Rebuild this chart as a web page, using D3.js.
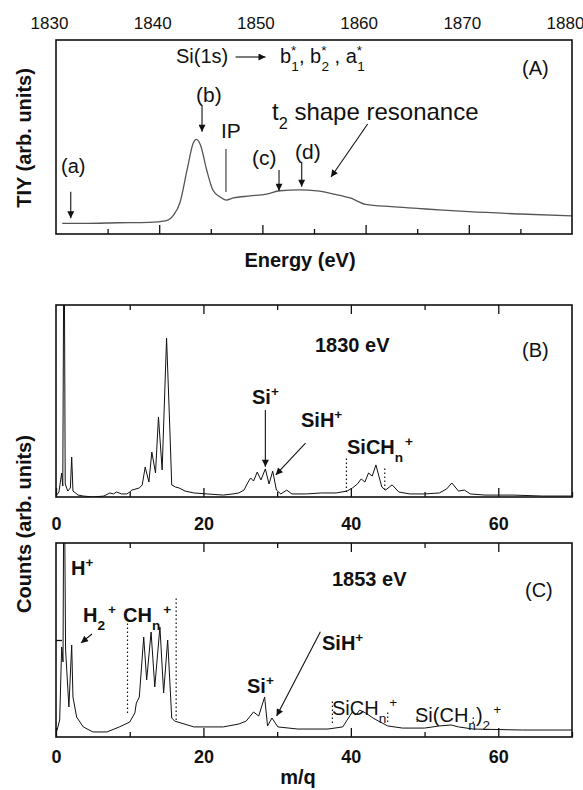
<!DOCTYPE html>
<html>
<head>
<meta charset="utf-8">
<script src="https://cdn.jsdelivr.net/npm/d3@7"></script>
<style>
  body { margin: 0; background: #fff; }
  svg text { font-family: "Liberation Sans", Arial, Helvetica, sans-serif; fill: #111; }
</style>
</head>
<body>
<svg id="fig" width="583" height="790"></svg>
<script>
// ---- data ----
// (A) total ion yield vs photon energy
const tiyEnergy = [1830.6, 1833, 1836, 1839, 1840.7, 1841.4, 1842.0, 1842.7, 1843.3, 1843.6, 1844.0, 1844.6,
  1845.2, 1845.9, 1846.5, 1847.2, 1848.8, 1850.4, 1851.7, 1853.6, 1855.3, 1856.9, 1858.5, 1860.0, 1862.5,
  1865.0, 1867.5, 1870.0, 1875.0, 1880.0];
const tiyValue = [0.055, 0.055, 0.058, 0.060, 0.069, 0.098, 0.160, 0.330, 0.469, 0.488, 0.459, 0.330,
  0.227, 0.191, 0.175, 0.186, 0.196, 0.206, 0.223, 0.227, 0.222, 0.206, 0.186, 0.153, 0.141,
  0.132, 0.123, 0.115, 0.103, 0.093];

// (B) mass spectrum at 1830 eV
const mqB = [0.0, 0.4, 0.77, 0.92, 1.09, 1.25, 1.6, 1.95, 2.13, 2.3, 3.0, 3.7, 5.0, 6.5, 7.3, 7.8, 8.2, 8.9, 9.6,
  10.0, 10.3, 11.3, 11.7, 12.1, 12.6, 13.0, 13.5, 13.9, 14.4, 15.0, 15.4, 15.7, 16.2, 16.7, 17.5, 18.7, 20.5,
  22.7, 24.0, 24.8, 25.5, 26.0, 26.4, 26.8, 27.3, 27.8, 28.4, 28.9, 29.4, 29.9, 30.5, 31.3, 32.0, 34.0, 36.0,
  38.0, 39.5, 40.2, 40.9, 41.4, 41.9, 42.4, 42.9, 43.4, 43.8, 44.2, 44.7, 45.6, 46.5, 48.0, 50.0, 52.0, 53.0,
  53.7, 54.6, 55.4, 56.2, 58.2, 62.0, 66.0, 70.0];
const countsB = [0.005, 0.026, 0.125, 0.057, 1.6, 0.068, 0.031, 0.047, 0.208, 0.031, 0.010, 0.005, 0.0, 0.005,
  0.021, 0.016, 0.026, 0.016, 0.016, 0.026, 0.036, 0.047, 0.063, 0.156, 0.078, 0.234, 0.125, 0.417, 0.141,
  0.828, 0.401, 0.063, 0.052, 0.047, 0.031, 0.021, 0.016, 0.010, 0.016, 0.021, 0.036, 0.073, 0.099, 0.083,
  0.130, 0.089, 0.146, 0.068, 0.135, 0.036, 0.016, 0.036, 0.016, 0.016, 0.021, 0.021, 0.031, 0.047, 0.068,
  0.094, 0.078, 0.125, 0.109, 0.167, 0.109, 0.052, 0.036, 0.063, 0.026, 0.016, 0.016, 0.021, 0.042, 0.073,
  0.031, 0.036, 0.016, 0.010, 0.010, 0.005, 0.005];

// (C) mass spectrum at 1853 eV
const mqC = [0.0, 0.15, 0.5, 0.77, 0.95, 1.09, 1.3, 1.75, 2.13, 2.3, 2.8, 3.7, 5.0, 6.9, 8.6, 10.0, 10.7, 10.9,
  11.3, 11.9, 12.3, 12.9, 13.4, 14.1, 14.6, 15.15, 15.7, 16.1, 18.7, 22.7, 24.8, 25.8, 26.8, 27.5, 28.3, 28.7,
  29.3, 30.1, 32.8, 36.9, 38.9, 40.2, 40.7, 41.2, 42.0, 43.0, 44.0, 45.0, 47.0, 50.0, 52.0, 53.6, 54.6, 56.6,
  63.3, 70.0];
const countsC = [0.026, 0.036, 0.088, 0.464, 0.387, 1.6, 0.448, 0.155, 0.474, 0.206, 0.103, 0.052, 0.026, 0.026,
  0.052, 0.077, 0.124, 0.175, 0.206, 0.515, 0.294, 0.541, 0.258, 0.567, 0.227, 0.500, 0.098, 0.082, 0.052,
  0.052, 0.067, 0.082, 0.129, 0.108, 0.206, 0.057, 0.098, 0.052, 0.041, 0.041, 0.052, 0.129, 0.113, 0.139,
  0.124, 0.098, 0.077, 0.057, 0.046, 0.046, 0.057, 0.062, 0.052, 0.041, 0.036, 0.036];

// dotted range markers: [m/q, counts low, counts high]
const markersB = [[39.4, 0.026, 0.203], [44.6, 0.036, 0.156]];
const markersC = [[9.7, 0.124, 0.593], [16.3, 0.088, 0.716], [37.5, 0.072, 0.191], [45.0, 0.077, 0.129],
  [49.0, 0.077, 0.113], [56.6, 0.072, 0.103]];

const energyLabels = [1830, 1840, 1850, 1860, 1870, 1880];
const energyMajor = [1840, 1850, 1860, 1870];
const energyMinor = [1835, 1845, 1855, 1865, 1875];
const mqLabels = [0, 20, 40, 60];
const mqMinor = [10, 30, 50, 70];

// ---- layout ----
const svg = d3.select('#fig');
const L = 56, R = 572;
const pA = { top: 40, bottom: 234 };
const pB = { top: 305, bottom: 497 };
const pC = { top: 543, bottom: 737 };

const xE = d3.scaleLinear().domain([1830, 1880]).range([L, R]);
const xM = d3.scaleLinear().domain([0, 70]).range([L, R]);
const yA = d3.scaleLinear().domain([0, 1]).range([pA.bottom, pA.top]);
const yB = d3.scaleLinear().domain([0, 1]).range([pB.bottom, pB.top]);
const yC = d3.scaleLinear().domain([0, 1]).range([pC.bottom, pC.top]);

const defs = svg.append('defs');
defs.append('marker')
  .attr('id', 'ah')
  .attr('viewBox', '0 0 10 10')
  .attr('refX', 10).attr('refY', 5)
  .attr('markerWidth', 8).attr('markerHeight', 7)
  .attr('markerUnits', 'userSpaceOnUse')
  .attr('orient', 'auto')
  .append('path').attr('d', 'M0,0L10,5L0,10Z').attr('fill', '#111');

['A', 'B', 'C'].forEach((k, i) => {
  const p = [pA, pB, pC][i];
  defs.append('clipPath').attr('id', 'clip' + k)
    .append('rect').attr('x', L).attr('y', p.top).attr('width', R - L).attr('height', p.bottom - p.top);
});

// text with sub/superscripts: parts are strings or {sub}/{sup} objects
function label(x, y, parts, size, bold) {
  const t = svg.append('text').attr('x', x).attr('y', y)
    .attr('font-size', size).attr('font-weight', bold ? 'bold' : 'normal');
  let shift = 0;
  parts.forEach(p => {
    let s, txt, fs = size;
    if (typeof p === 'string') { s = 0; txt = p; }
    else if (p.sub !== undefined) { s = size * 0.38; txt = p.sub; fs = size * 0.68; }
    else { s = -size * 0.42; txt = p.sup; fs = size * 0.68; }
    const ts = t.append('tspan').attr('dy', s - shift).attr('font-size', fs).text(txt);
    if (p.dx) ts.attr('dx', p.dx);
    shift = s;
  });
  return t;
}

function arrow(x1, y1, x2, y2) {
  svg.append('line')
    .attr('x1', x1).attr('y1', y1).attr('x2', x2).attr('y2', y2)
    .attr('stroke', '#111').attr('stroke-width', 1.1)
    .attr('marker-end', 'url(#ah)');
}

function frame(p) {
  svg.append('rect')
    .attr('x', L).attr('y', p.top).attr('width', R - L).attr('height', p.bottom - p.top)
    .attr('fill', 'none').attr('stroke', '#111').attr('stroke-width', 1.6);
}

function cleanAxis(g) {
  g.select('.domain').remove();
  g.selectAll('line').attr('stroke', '#111').attr('stroke-width', 1.3);
}

// ---- panel A ----
const lineA = d3.line().x((d, i) => xE(tiyEnergy[i])).y(d => yA(d)).curve(d3.curveMonotoneX);
svg.append('path').datum(tiyValue)
  .attr('clip-path', 'url(#clipA)')
  .attr('d', lineA).attr('fill', 'none').attr('stroke', '#555').attr('stroke-width', 1.3);

svg.append('g').attr('transform', `translate(0,${pA.bottom})`)
  .call(d3.axisBottom(xE).tickValues(energyMajor).tickSize(-9).tickFormat(''))
  .call(cleanAxis);
svg.append('g').attr('transform', `translate(0,${pA.bottom})`)
  .call(d3.axisBottom(xE).tickValues(energyMinor).tickSize(-5).tickFormat(''))
  .call(cleanAxis);
const topAx = svg.append('g').attr('transform', `translate(0,${pA.top})`)
  .call(d3.axisTop(xE).tickValues(energyLabels).tickSize(0).tickFormat(d3.format('d')));
topAx.select('.domain').remove();
topAx.selectAll('text').attr('y', -11).attr('dy', 0).attr('dx', -7)
  .attr('font-size', 17).attr('font-family', null).attr('fill', '#111');
frame(pA);

// panel A annotations
label(176, 63, ['Si(1s)'], 20);
arrow(xE(1847.4), 57, xE(1850.3), 57);
label(xE(1851.7), 63, ['b', { sup: '*' }, { sub: '1', dx: -5 }, ', b', { sup: '*' }, { sub: '2', dx: -5 },
  ' , a', { sup: '*' }, { sub: '1', dx: -5 }], 20);
label(522, 75, ['(A)'], 20);
label(196, 102, ['(b)'], 21);
arrow(xE(1844.15), yA(0.66), xE(1844.15), yA(0.527));
label(221, 138, ['IP'], 21);
svg.append('line')
  .attr('x1', xE(1846.47)).attr('x2', xE(1846.47)).attr('y1', yA(0.438)).attr('y2', yA(0.216))
  .attr('stroke', '#333').attr('stroke-width', 1.1);
label(272, 120, ['t', { sub: '2' }, ' shape resonance'], 24);
arrow(xE(1860.2), yA(0.567), xE(1856.65), yA(0.294));
label(252, 165, ['(c)'], 21);
arrow(xE(1851.61), yA(0.33), xE(1851.61), yA(0.223));
label(295, 159, ['(d)'], 21);
arrow(xE(1853.81), yA(0.373), xE(1853.81), yA(0.244));
label(61, 173, ['(a)'], 20);
arrow(xE(1831.43), yA(0.218), xE(1831.43), yA(0.081));

svg.append('text').attr('x', 300).attr('y', 267).attr('text-anchor', 'middle')
  .attr('font-size', 20).attr('font-weight', 'bold').text('Energy (eV)');
svg.append('text').attr('transform', 'translate(31,138) rotate(-90)').attr('text-anchor', 'middle')
  .attr('font-size', 20).attr('font-weight', 'bold').text('TIY (arb. units)');

// ---- panels B and C ----
function massPanel(p, y, mq, counts, markers, clipId, labY) {
  const line = d3.line().x((d, i) => xM(mq[i])).y(d => y(d));
  svg.append('path').datum(counts)
    .attr('clip-path', `url(#${clipId})`)
    .attr('d', line).attr('fill', 'none').attr('stroke', '#111').attr('stroke-width', 1);

  svg.selectAll(null).data(markers).enter().append('line')
    .attr('x1', d => xM(d[0])).attr('x2', d => xM(d[0]))
    .attr('y1', d => y(d[1])).attr('y2', d => y(d[2]))
    .attr('stroke', '#111').attr('stroke-width', 1.2).attr('stroke-dasharray', '1.5,2.5');

  const bot = svg.append('g').attr('transform', `translate(0,${p.bottom})`)
    .call(d3.axisBottom(xM).tickValues(mqLabels).tickSize(-9).tickFormat(d3.format('d')))
    .call(cleanAxis);
  bot.selectAll('text').attr('y', labY - p.bottom).attr('dy', 0)
    .attr('font-size', 18).attr('font-weight', 'bold').attr('font-family', null).attr('fill', '#111');
  svg.append('g').attr('transform', `translate(0,${p.bottom})`)
    .call(d3.axisBottom(xM).tickValues(mqMinor).tickSize(-5).tickFormat(''))
    .call(cleanAxis);
  svg.append('g').attr('transform', `translate(0,${p.top})`)
    .call(d3.axisTop(xM).tickValues(mqLabels.slice(1)).tickSize(-9).tickFormat(''))
    .call(cleanAxis);
  svg.append('g').attr('transform', `translate(0,${p.top})`)
    .call(d3.axisTop(xM).tickValues(mqMinor.slice(0, 3)).tickSize(-5).tickFormat(''))
    .call(cleanAxis);
  frame(p);
}

massPanel(pB, yB, mqB, countsB, markersB, 'clipB', 530);
massPanel(pC, yC, mqC, countsC, markersC, 'clipC', 763);

// single counts tick on panel C
svg.append('g').attr('transform', `translate(${L},0)`)
  .call(d3.axisRight(yC).tickValues([0.5]).tickSize(6).tickFormat(''))
  .call(cleanAxis);

// panel B annotations
label(315, 352, ['1830 eV'], 20, true);
label(522, 357, ['(B)'], 20);
label(252, 404, ['Si', { sup: '+' }], 20, true);
arrow(xM(28.4), yB(0.453), xM(28.4), yB(0.158));
label(301, 427, ['SiH', { sup: '+' }], 20, true);
arrow(xM(33.85), yB(0.28), xM(29.81), yB(0.115));
label(347, 454, ['SiCH', { sub: 'n' }, { sup: '+', dx: 2 }], 20, true);

// panel C annotations
label(71, 575, ['H', { sup: '+' }], 20, true);
label(83, 622, ['H', { sub: '2' }, { sup: '+', dx: 3 }], 20, true);
arrow(xM(4.88), yC(0.531), xM(3.39), yC(0.485));
label(123, 622, ['CH', { sub: 'n' }, { sup: '+', dx: 3 }], 20, true);
label(332, 586, ['1853 eV'], 20, true);
label(525, 597, ['(C)'], 20);
label(322, 650, ['SiH', { sup: '+' }], 20, true);
arrow(xM(35.87), yC(0.543), xM(29.93), yC(0.108));
label(247, 693, ['Si', { sup: '+' }], 20, true);
label(332, 715, ['SiCH', { sub: 'n' }, { sup: '+', dx: 3 }], 20);
label(415, 722, ['Si(CH', { sub: 'n' }, ')', { sub: '2' }, { sup: '+', dx: 3 }], 20);

svg.append('text').attr('x', 298).attr('y', 784).attr('text-anchor', 'middle')
  .attr('font-size', 20).attr('font-weight', 'bold').text('m/q');
svg.append('text').attr('transform', 'translate(31,524) rotate(-90)').attr('text-anchor', 'middle')
  .attr('font-size', 20).attr('font-weight', 'bold').text('Counts (arb. units)');
</script>
</body>
</html>
